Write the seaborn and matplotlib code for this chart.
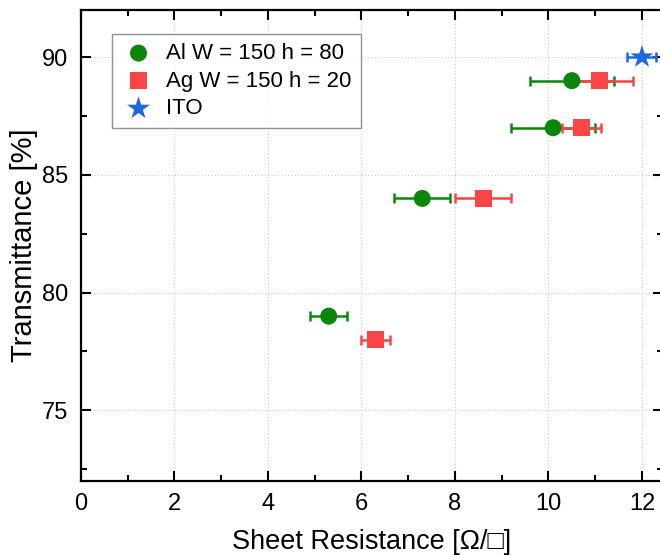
import matplotlib
matplotlib.use("Agg")
import matplotlib.pyplot as plt
import seaborn as sns
import pandas as pd
from matplotlib.ticker import MultipleLocator

# Data
al_x = [5.3, 7.3, 10.1, 10.5]
al_y = [79, 84, 87, 89]
al_err = [0.4, 0.6, 0.9, 0.9]
ag_x = [6.3, 8.6, 10.7, 11.1]
ag_y = [78, 84, 87, 89]
ag_err = [0.3, 0.6, 0.42, 0.7]
ito_x = [12.0]
ito_y = [90]
ito_err = [0.31]
labels = ["Al W = 150 h = 80", "Ag W = 150 h = 20", "ITO"]
colors = ["#0a870a", "#f94545", "#1f68dd"]
markers = ["o", "s", "*"]
msizes = [150, 150, 300]

sns.set_style("white")
plt.rcParams['font.family'] = ['Liberation Sans', 'DejaVu Sans']

df = pd.DataFrame({
    "x": al_x + ag_x + ito_x,
    "y": al_y + ag_y + ito_y,
    "err": al_err + ag_err + ito_err,
    "series": [labels[0]] * len(al_x) + [labels[1]] * len(ag_x) + [labels[2]] * len(ito_x),
})

fig = plt.figure(figsize=(6.6, 5.55), dpi=100)
ax = fig.add_axes([81 / 660, 1 - 481 / 555, 582 / 660, 471 / 555])

for lab, c, m, s in zip(labels, colors, markers, msizes):
    sub = df[df.series == lab]
    ax.errorbar(sub.x, sub.y, xerr=sub.err, fmt="none", ecolor=c, elinewidth=1.8,
                capsize=3.5, capthick=1.8, zorder=2)
    sns.scatterplot(data=sub, x="x", y="y", color=c, marker=m, s=s,
                    edgecolor="none", ax=ax, zorder=3, label=lab, legend=False)

ax.set_xlim(0, 12.45)
ax.set_ylim(72, 92)
ax.xaxis.set_major_locator(MultipleLocator(2))
ax.xaxis.set_minor_locator(MultipleLocator(1))
ax.yaxis.set_major_locator(MultipleLocator(5))
ax.yaxis.set_minor_locator(MultipleLocator(2.5))
ax.tick_params(which="both", direction="in", bottom=True, left=True, top=True, right=True,
               width=1.5, labelsize=17, color="black", labelcolor="black")
ax.tick_params(which="major", length=7, pad=9)
ax.tick_params(which="minor", length=4)
for s in ax.spines.values():
    s.set_linewidth(1.6)
    s.set_color("black")
ax.grid(True, which="major", linestyle=(0, (1, 2)), color="#c8c8c8", linewidth=0.8)
ax.set_axisbelow(True)

ax.set_xlabel("Sheet Resistance [Ω/□]", fontsize=19.5, labelpad=10, color="black")
ax.set_ylabel("Transmittance [%]", fontsize=21, labelpad=3, color="black")

handles, lbls = ax.get_legend_handles_labels()
leg = ax.legend(handles, lbls, loc="upper left", bbox_to_anchor=(0.053, 0.949), fontsize=16,
                frameon=True, fancybox=False, edgecolor="#777777", handletextpad=0.45,
                borderpad=0.4, labelspacing=0.3, handlelength=1.6, scatterpoints=1,
                borderaxespad=0)
leg.get_frame().set_linewidth(1.0)
for t in leg.get_texts():
    t.set_color("black")

fig.savefig("out.png", dpi=100)
